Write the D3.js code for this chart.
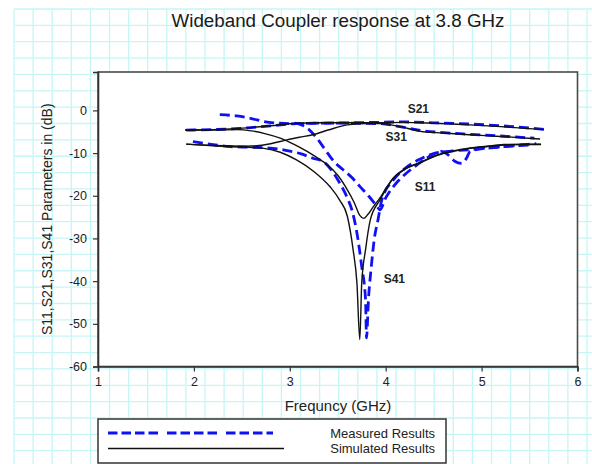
<!DOCTYPE html>
<html>
<head>
<meta charset="utf-8">
<script src="https://cdn.jsdelivr.net/npm/d3@7"></script>
<style>
  html, body { margin: 0; padding: 0; background: #fff; }
  svg { display: block; font-family: "Liberation Sans", Arial, sans-serif; }
</style>
</head>
<body>
<svg id="chart" width="592" height="464"></svg>
<script>
// ---------- DATA ----------
const xTicks = [1, 2, 3, 4, 5, 6];
const yTicks = [-60, -50, -40, -30, -20, -10, 0];

// Simulated (black solid)
const simS21F = [1.91, 2.2, 2.55, 2.8, 3.07, 3.3, 3.6, 3.94, 4.18, 4.5, 4.88, 5.2, 5.65];
const simS21  = [-4.6, -4.5, -4.1, -3.6, -3.0, -2.9, -2.9, -2.9, -2.8, -3.0, -3.4, -3.8, -4.5];

const simS31F = [1.92, 2.2, 2.55, 2.8, 2.97, 3.1, 3.24, 3.4, 3.6, 3.8, 3.94, 4.15, 4.36, 4.6, 4.88, 5.2, 5.61];
const simS31  = [-7.9, -8.2, -8.4, -7.8, -6.9, -6.3, -5.7, -4.6, -3.4, -3.1, -3.1, -3.8, -4.9, -5.3, -5.7, -6.1, -6.7];

const simS11F = [1.91, 2.2, 2.45, 2.6, 2.75, 2.9, 3.05, 3.18, 3.3, 3.39, 3.5, 3.6, 3.67, 3.73, 3.77, 3.82, 3.87, 3.94, 4.08, 4.2, 4.36, 4.54, 4.7, 4.88, 5.05, 5.23, 5.45, 5.62];
const simS11  = [-4.6, -4.6, -4.5, -4.8, -5.5, -6.5, -8.0, -9.6, -11.3, -12.7, -15.2, -18.6, -21.5, -24.6, -25.3, -24.2, -22.6, -20.5, -15.8, -13.7, -12.2, -10.4, -9.5, -8.8, -8.4, -8.0, -7.9, -7.9];

const simS41F = [1.92, 2.2, 2.5, 2.73, 2.9, 3.07, 3.25, 3.42, 3.52, 3.6, 3.66, 3.70, 3.73, 3.75, 3.79, 3.84, 3.94, 4.08, 4.2, 4.36, 4.54, 4.7, 4.88, 5.05, 5.23, 5.45, 5.62];
const simS41  = [-7.9, -8.3, -8.6, -8.9, -9.8, -11.6, -14.3, -17.9, -21.0, -24.8, -32.6, -40.4, -53.7, -40.4, -32.6, -25.6, -21.0, -15.9, -13.8, -12.3, -10.5, -9.6, -8.9, -8.5, -8.1, -8.0, -8.0];

// Measured (blue dashed)
const measS21F = [2.27, 2.45, 2.6, 2.73, 2.9, 3.07, 3.3, 3.6, 3.9, 4.18, 4.5, 4.88, 5.2, 5.68];
const measS21  = [-1.0, -1.3, -1.9, -2.6, -3.0, -3.1, -3.0, -2.9, -2.8, -2.7, -2.9, -3.2, -3.6, -4.5];

const measS31F = [1.92, 2.2, 2.55, 2.8, 3.07, 3.3, 3.6, 3.94, 4.15, 4.36, 4.6, 4.88, 5.2, 5.55];
const measS31  = [-4.6, -4.5, -4.1, -3.6, -3.1, -3.0, -3.0, -3.1, -3.8, -4.7, -5.2, -5.6, -6.0, -6.5];

const measS11F = [3.05, 3.1, 3.2, 3.3, 3.4, 3.47, 3.55, 3.65, 3.73, 3.82, 3.91, 3.94, 4.0, 4.1, 4.2, 4.3, 4.4, 4.5, 4.58, 4.65, 4.72, 4.79, 4.84, 4.88, 4.96, 5.2, 5.45, 5.57];
const measS11  = [-3.0, -3.2, -4.5, -7.0, -10.2, -12.2, -13.8, -15.8, -17.8, -20.0, -22.5, -23.3, -20.5, -17.3, -15.0, -13.2, -11.6, -10.2, -9.6, -10.4, -11.9, -12.4, -11.3, -9.6, -9.1, -8.5, -8.0, -7.8];

const measS41F = [1.99, 2.2, 2.38, 2.55, 2.72, 2.97, 3.12, 3.24, 3.35, 3.45, 3.52, 3.6, 3.65, 3.7, 3.75, 3.79, 3.8, 3.82, 3.85, 3.88, 3.92, 3.96, 4.08, 4.2, 4.35, 4.5, 4.7, 4.88, 5.23, 5.5];
const measS41  = [-7.3, -8.0, -8.5, -8.6, -8.7, -9.4, -10.2, -11.2, -12.0, -14.5, -17.0, -20.5, -23.5, -28.7, -36.6, -44.4, -53.3, -44.4, -36.6, -30.3, -25.6, -20.9, -16.3, -13.6, -11.5, -10.1, -9.5, -9.2, -8.5, -8.1];

const curveLabels = ["S21", "S31", "S11", "S41"];
const labelPos = [[4.34, -0.6], [4.11, -7.1], [4.41, -18.8], [4.09, -40.4]]; // [GHz, dB]
const legendNames = ["Measured Results", "Simulated Results"];

// ---------- LAYOUT ----------
const W = 592, H = 464;
const m = { left: 98, right: 577.5, top: 72, bottom: 366.5 };
const svg = d3.select("#chart");

// paper grid background
const gx0 = 14, gdx = 19.1, gy0 = 9, gdy = 16.36;
const gridG = svg.append("g").attr("stroke", "#c6f6f6").attr("stroke-width", 1.3);
d3.range(gx0, W + 1, gdx).forEach(x => gridG.append("line").attr("x1", x).attr("x2", x).attr("y1", gy0).attr("y2", H));
d3.range(gy0, H + 1, gdy).forEach(y => gridG.append("line").attr("x1", gx0).attr("x2", W).attr("y1", y).attr("y2", y));

const x = d3.scaleLinear().domain([1, 6]).range([m.left, m.right]);
const y = d3.scaleLinear().domain([-60, 9]).range([m.bottom, m.top]);

// plot area
svg.append("rect").attr("x", m.left).attr("y", m.top)
  .attr("width", m.right - m.left).attr("height", m.bottom - m.top)
  .attr("fill", "#fff");

// title
svg.append("text").attr("x", 338).attr("y", 27).attr("text-anchor", "middle")
  .attr("font-size", 18.8).attr("fill", "#1a1a1a")
  .text("Wideband Coupler response at 3.8 GHz");

// curves
const line = d3.line().x(d => x(d[0])).y(d => y(d[1])).curve(d3.curveMonotoneX);
const zip = (f, v) => f.map((ff, i) => [ff, v[i]]);

const clipId = "clipPlot";
svg.append("clipPath").attr("id", clipId).append("rect")
  .attr("x", m.left).attr("y", m.top).attr("width", m.right - m.left).attr("height", m.bottom - m.top);
const plotG = svg.append("g").attr("clip-path", `url(#${clipId})`);

const meas = [[measS41F, measS41], [measS11F, measS11], [measS31F, measS31], [measS21F, measS21]];
const sims = [[simS41F, simS41], [simS11F, simS11], [simS31F, simS31], [simS21F, simS21]];

plotG.selectAll("path.meas").data(meas).join("path").attr("class", "meas")
  .attr("d", d => line(zip(d[0], d[1])))
  .attr("fill", "none").attr("stroke", "#1010f5").attr("stroke-width", 2.8)
  .attr("stroke-dasharray", "10,5");

plotG.selectAll("path.sim").data(sims).join("path").attr("class", "sim")
  .attr("d", d => line(zip(d[0], d[1])))
  .attr("fill", "none").attr("stroke", "#111").attr("stroke-width", 1.4);

// curve labels
svg.selectAll("text.clab").data(curveLabels).join("text").attr("class", "clab")
  .attr("x", (d, i) => x(labelPos[i][0])).attr("y", (d, i) => y(labelPos[i][1]))
  .attr("text-anchor", "middle").attr("font-size", 12).attr("font-weight", "bold")
  .attr("fill", "#222").text(d => d);

// frame
svg.append("rect").attr("x", m.left).attr("y", m.top)
  .attr("width", m.right - m.left).attr("height", m.bottom - m.top)
  .attr("fill", "none").attr("stroke", "#4a4a4a").attr("stroke-width", 1.6);

// axes
const fmt = d => String(d);
const yAxis = d3.axisLeft(y).tickValues(yTicks).tickSize(5).tickPadding(6).tickFormat(fmt);
const xAxis = d3.axisBottom(x).tickValues(xTicks).tickSize(5).tickPadding(6).tickFormat(fmt);
const yg = svg.append("g").attr("transform", `translate(${m.left},0)`).call(yAxis);
const xg = svg.append("g").attr("transform", `translate(0,${m.bottom})`).call(xAxis);
[yg, xg].forEach(g => {
  g.select(".domain").attr("stroke", "#333").attr("stroke-width", 1.6);
  g.selectAll(".tick line").attr("stroke", "#333").attr("stroke-width", 1.2);
  g.selectAll(".tick text").attr("fill", "#222").attr("font-size", 12.5)
    .attr("font-family", "Liberation Sans, Arial, sans-serif");
});

// axis titles
svg.append("text").attr("x", 338).attr("y", 411).attr("text-anchor", "middle")
  .attr("font-size", 15).attr("fill", "#222").text("Frequncy (GHz)");
svg.append("text").attr("transform", `translate(52,${(m.top + m.bottom) / 2}) rotate(-90)`)
  .attr("text-anchor", "middle").attr("font-size", 14).attr("fill", "#222")
  .text("S11,S21,S31,S41 Parameters in (dB)");

// legend
const lg = svg.append("g");
lg.append("rect").attr("x", 98).attr("y", 419).attr("width", 348).attr("height", 44)
  .attr("fill", "#fff").attr("stroke", "#333").attr("stroke-width", 1.5);
const legRows = [433, 448.5];
lg.append("line").attr("x1", 108).attr("x2", 273).attr("y1", legRows[0]).attr("y2", legRows[0])
  .attr("stroke", "#1010f5").attr("stroke-width", 2.8)
  .attr("stroke-dasharray", "9.5,4,9.5,4,9.5,4,9.5,9");
lg.append("line").attr("x1", 108).attr("x2", 284).attr("y1", legRows[1]).attr("y2", legRows[1])
  .attr("stroke", "#111").attr("stroke-width", 1.4);
lg.selectAll("text").data(legendNames).join("text")
  .attr("x", 435).attr("y", (d, i) => legRows[i] + 4.5).attr("text-anchor", "end")
  .attr("font-size", 13).attr("fill", "#222").text(d => d);
</script>
</body>
</html>
